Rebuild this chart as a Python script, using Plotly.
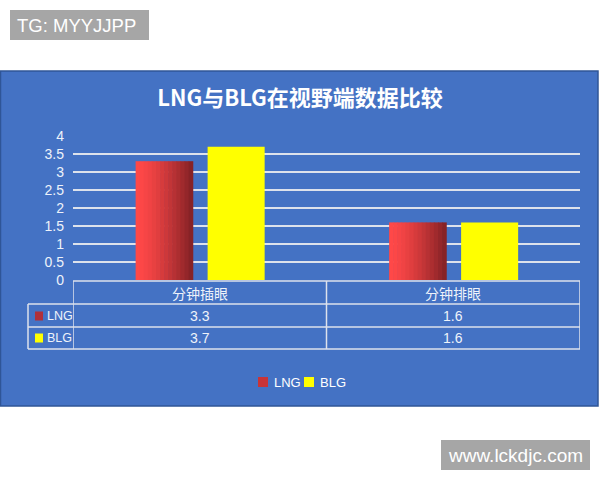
import plotly.graph_objects as go

# data
categories = ["分钟插眼", "分钟排眼"]
series_names = ["LNG", "BLG"]
lng_values = [3.3, 1.6]
blg_values = [3.7, 1.6]
y_ticks = [0, 0.5, 1, 1.5, 2, 2.5, 3, 3.5, 4]

W, H = 600, 480
PANEL = "#4472C4"
LINE = "#DDE2EC"
TXT = "#EEF2FA"
CJK = "Noto Sans CJK SC"
SANS = "Liberation Sans"


def px_x(x):
    return x / W


def px_y(y):
    return 1 - y / H


def mix(c1, c2, t):
    return "rgb({},{},{})".format(*[round(a + (b - a) * t) for a, b in zip(c1, c2)])


def label(x, y, text, size, color=TXT, family=SANS, xanchor="center", xref="paper"):
    return dict(x=x, xref=xref, y=px_y(y), yref="paper", text=text, showarrow=False,
                xanchor=xanchor, yanchor="middle",
                font=dict(family=family, size=size, color=color))


fig = go.Figure()

# LNG bars drawn as thin slices to fake the left-to-right red gradient
n_slices = 14
bar_w = 0.225
red_left, red_right = (255, 72, 72), (135, 34, 38)
for i in range(n_slices):
    fig.add_bar(
        x=categories, y=lng_values, name="LNG", showlegend=False,
        width=bar_w / n_slices * 1.15, offset=-0.253 + i * bar_w / n_slices,
        marker=dict(color=mix(red_left, red_right, (i / (n_slices - 1)) ** 1.4), line_width=0),
        hoverinfo="skip",
    )

fig.add_bar(x=categories, y=blg_values, name="BLG", width=bar_w, offset=0.031,
            showlegend=False, marker=dict(color="#FFFF00", line_width=0))

shapes = []
# blue panel
shapes.append(dict(type="rect", xref="paper", yref="paper", layer="below",
                   x0=px_x(0.5), x1=px_x(598), y0=px_y(71), y1=px_y(406),
                   fillcolor=PANEL, line=dict(color="#2F5597", width=1.5)))

# data table under the axis
t_top, t_head, t_r1, t_r2 = 281, 304, 327, 349
for y in [t_head, t_r1, t_r2]:
    shapes.append(dict(type="line", xref="paper", yref="paper",
                       x0=px_x(28), x1=px_x(580), y0=px_y(y), y1=px_y(y),
                       line=dict(color=LINE, width=1.5)))
shapes.append(dict(type="line", xref="paper", yref="paper",
                   x0=px_x(73), x1=px_x(580), y0=px_y(t_top), y1=px_y(t_top),
                   line=dict(color=LINE, width=1.5)))
for xv in [-0.5, 0.5, 1.5]:
    shapes.append(dict(type="line", xref="x", yref="paper",
                       x0=xv, x1=xv, y0=px_y(t_top), y1=px_y(t_r2),
                       line=dict(color=LINE, width=1.5)))
shapes.append(dict(type="line", xref="paper", yref="paper",
                   x0=px_x(28), x1=px_x(28), y0=px_y(t_head), y1=px_y(t_r2),
                   line=dict(color=LINE, width=1.5)))

# watermark boxes
shapes.append(dict(type="rect", xref="paper", yref="paper",
                   x0=px_x(10), x1=px_x(149), y0=px_y(10), y1=px_y(40),
                   fillcolor="#A6A6A6", line_width=0))
shapes.append(dict(type="rect", xref="paper", yref="paper",
                   x0=px_x(441), x1=px_x(590), y0=px_y(440), y1=px_y(470),
                   fillcolor="#A6A6A6", line_width=0))

annotations = []
for i, cat in enumerate(categories):
    annotations.append(label(i, 293, cat, 14, family=CJK, xref="x"))
    annotations.append(label(i, 316, str(lng_values[i]), 14, xref="x"))
    annotations.append(label(i, 338, str(blg_values[i]), 14, xref="x"))

key_colors = ["#B0303A", "#FFFF00"]
for name, row_y, kc in zip(series_names, [316, 338], key_colors):
    shapes.append(dict(type="rect", xref="paper", yref="paper",
                       x0=px_x(35), x1=px_x(43), y0=px_y(row_y - 4.5), y1=px_y(row_y + 4.5),
                       fillcolor=kc, line_width=0))
    annotations.append(label(px_x(45), row_y, name, 12.5, xanchor="left"))

# legend below the table
legend_keys = ["#C83438", "#FFFF00"]
for name, x0, kc in zip(series_names, [258, 304], legend_keys):
    shapes.append(dict(type="rect", xref="paper", yref="paper",
                       x0=px_x(x0), x1=px_x(x0 + 10), y0=px_y(377), y1=px_y(387),
                       fillcolor=kc, line_width=0))
    annotations.append(label(px_x(x0 + 14), 382, name, 13, color="white", xanchor="left"))

annotations.append(label(px_x(15), 25, "TG: MYYJJPP", 18.5, color="white", xanchor="left"))
annotations.append(label(px_x(446), 455, "www.lckdjc.com", 19, color="white", xanchor="left"))

fig.update_layout(
    width=W, height=H,
    margin=dict(l=0, r=0, t=0, b=0),
    paper_bgcolor="white", plot_bgcolor="rgba(0,0,0,0)",
    barmode="overlay",
    title=dict(text="LNG与BLG在视野端数据比较", x=0.5, xanchor="center",
               y=px_y(98), yanchor="middle",
               font=dict(family=CJK, size=22, color="white", weight="bold")),
    xaxis=dict(domain=[px_x(73), px_x(580)], range=[-0.5, 1.5], showticklabels=False,
               showgrid=False, zeroline=False, showline=False, automargin=False),
    yaxis=dict(domain=[px_y(280), px_y(136)], range=[0, 4], tickvals=y_ticks,
               showgrid=True, gridcolor=LINE, gridwidth=1.8, zeroline=False, showline=False,
               ticks="", ticklabelstandoff=8, automargin=False,
               tickfont=dict(family=SANS, size=14, color=TXT)),
    showlegend=False,
    shapes=shapes,
    annotations=annotations,
)

fig.write_html("out.html", config={"displayModeBar": False},
               post_script="document.body.style.margin = '0';")
